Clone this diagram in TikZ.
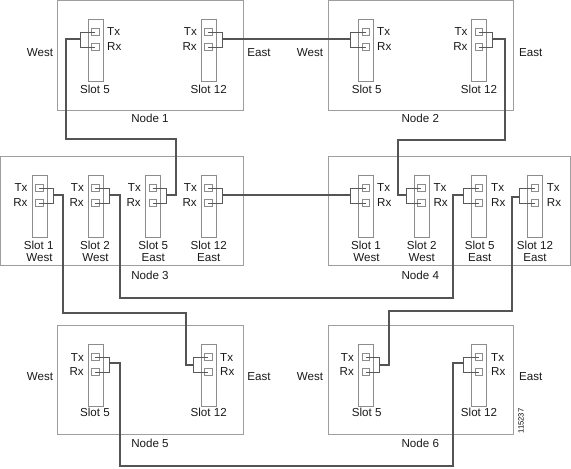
\documentclass[tikz,border=0pt]{standalone}
\usepackage{fontspec}
\setmainfont{Liberation Sans}
\usetikzlibrary{calc}
\definecolor{frameC}{gray}{0.62}
\definecolor{slotC}{gray}{0.55}
\definecolor{wireC}{gray}{0.33}
\definecolor{leadC}{gray}{0.35}
\tikzset{
  nodebox/.style={draw=frameC,line width=1pt,inner sep=0pt},
  slotbox/.style={draw=slotC,line width=1pt,inner sep=0pt,minimum width=15.2pt,minimum height=61.5pt,anchor=north west},
  portbox/.style={draw=slotC,line width=0.8pt,inner sep=0pt,minimum size=7.2pt},
  lead/.style={draw=leadC,line width=0.9pt},
  wire/.style={draw=wireC,line width=2pt,line join=miter},
  lbl/.style={font=\fontsize{11.6}{13}\selectfont,inner sep=0pt,text=black!90},
  lblL/.style={lbl,anchor=west},
  lblR/.style={lbl,anchor=east}
}
\newcommand{\slotW}[3]{%
  \node[slotbox] (#1) at (#2,#3) {};
  \node[portbox] (#1t) at (#2+7.8,#3+13.2) {};
  \node[portbox] (#1r) at (#2+7.8,#3+28.2) {};
  \coordinate (#1b) at (#2-7.2,#3+20);
  \draw[lead] (#1t.center) -| (#1b) |- (#1r.center);
}
\newcommand{\slotE}[3]{%
  \node[slotbox] (#1) at (#2,#3) {};
  \node[portbox] (#1t) at (#2+7.8,#3+13.2) {};
  \node[portbox] (#1r) at (#2+7.8,#3+28.2) {};
  \coordinate (#1b) at (#2+21.6,#3+20);
  \draw[lead] (#1t.center) -| (#1b) |- (#1r.center);
}
\begin{document}
\begin{tikzpicture}[x=1pt,y=-1pt]
\useasboundingbox (0,0) rectangle (571,469);
% node frames
\draw[nodebox] (57.5,0.5) rectangle (243,110);
\draw[nodebox] (328,0.5) rectangle (513.5,110);
\draw[nodebox] (0.5,156) rectangle (243,265.5);
\draw[nodebox] (328,156) rectangle (570.5,265.5);
\draw[nodebox] (57.5,325) rectangle (243,434.5);
\draw[nodebox] (328,325) rectangle (513.5,434.5);
% slots
\slotW{a}{87.5}{19}
\slotE{b}{200.5}{19}
\slotW{c}{357.7}{19}
\slotE{d}{470.7}{19}
\slotE{e}{31.5}{175}
\slotE{f}{87.5}{175}
\slotE{g}{144.7}{175}
\slotE{h}{200.5}{175}
\slotW{i}{357.7}{175}
\slotW{j}{413.5}{175}
\slotW{k}{470.7}{175}
\slotW{l}{526.7}{175}
\slotE{m}{87.5}{344}
\slotW{n}{200.5}{344}
\slotE{o}{357.7}{344}
\slotW{p}{470.7}{344}
\coordinate (ls) at ($(lb)+(0,2)$);
\coordinate (ms) at ($(mb)+(0,-1)$);
\coordinate (ps) at ($(pb)+(0,-1)$);
\coordinate (ns) at ($(nb)+(0,1)$);
\coordinate (os) at ($(ob)+(0,1)$);
% wires
\draw[wire] (ab) -- ++(-14,0) |- (176,139) |- (gb);
\draw[wire] (bb) -- (cb);
\draw[wire] (db) -| (505,140) -| (398,165) |- (jb);
\draw[wire] (hb) -- (ib);
\draw[wire] (eb) -| (63,313) -| (186,340) |- (ns);
\draw[wire] (fb) -| (119.5,298) -| (452.7,230) |- (kb);
\draw[wire] (ls) -| (511.7,311) -| (389.3,340) |- (os);
\draw[wire] (ms) -| (119.5,466) -| (452.7,400) |- (ps);
% labels node 1
\node[lbl] (w1) at (40,52.5) {West};
\node[lbl] (e1) at (259,52.5) {East};
\node[lblL] (t1) at (107,32) {Tx};
\node[lblL] (r1) at (107,47) {Rx};
\node[lblR] (t2) at (197,32) {Tx};
\node[lblR] (r2) at (197,47) {Rx};
\node[lbl] (s1) at (95,89) {Slot 5};
\node[lbl] (s2) at (208.7,89) {Slot 12};
\node[lbl] (n1) at (150,118.7) {Node 1};
% node 2
\node[lbl] (w2) at (310,52.5) {West};
\node[lbl] (e2) at (530.7,52.5) {East};
\node[lblL] (t3) at (377,32) {Tx};
\node[lblL] (r3) at (377,47) {Rx};
\node[lblR] (t4) at (467.7,32) {Tx};
\node[lblR] (r4) at (467.7,47) {Rx};
\node[lbl] (s3) at (366.7,89) {Slot 5};
\node[lbl] (s4) at (479,89) {Slot 12};
\node[lbl] (n2) at (420.3,118.7) {Node 2};
% node 3
\node[lblR] (t5) at (27.7,188) {Tx};
\node[lblR] (r5) at (27.7,203) {Rx};
\node[lblR] (t6) at (84,188) {Tx};
\node[lblR] (r6) at (84,203) {Rx};
\node[lblR] (t7) at (141,188) {Tx};
\node[lblR] (r7) at (141,203) {Rx};
\node[lblR] (t8) at (197,188) {Tx};
\node[lblR] (r8) at (197,203) {Rx};
\node[lbl] (s5) at (38.7,245) {Slot 1};
\node[lbl] (s6) at (95,245) {Slot 2};
\node[lbl] (s7) at (153.3,245) {Slot 5};
\node[lbl] (s8) at (208.7,245) {Slot 12};
\node[lbl] (d5) at (39.5,257.7) {West};
\node[lbl] (d6) at (95.5,257.7) {West};
\node[lbl] (d7) at (153.3,257.7) {East};
\node[lbl] (d8) at (208.7,257.7) {East};
\node[lbl] (n3) at (150,275) {Node 3};
% node 4
\node[lblL] (t9) at (377,188) {Tx};
\node[lblL] (r9) at (377,203) {Rx};
\node[lblL] (t10) at (433.3,188) {Tx};
\node[lblL] (r10) at (433.3,203) {Rx};
\node[lblL] (t11) at (491,188) {Tx};
\node[lblL] (r11) at (491,203) {Rx};
\node[lblL] (t12) at (546.7,188) {Tx};
\node[lblL] (r12) at (546.7,203) {Rx};
\node[lbl] (s9) at (366,245) {Slot 1};
\node[lbl] (s10) at (421.7,245) {Slot 2};
\node[lbl] (s11) at (479.7,245) {Slot 5};
\node[lbl] (s12) at (535,245) {Slot 12};
\node[lbl] (d9) at (366.5,257.7) {West};
\node[lbl] (d10) at (421.7,257.7) {West};
\node[lbl] (d11) at (479.7,257.7) {East};
\node[lbl] (d12) at (535,257.7) {East};
\node[lbl] (n4) at (420.3,275) {Node 4};
% node 5
\node[lbl] (w5) at (40,376.7) {West};
\node[lbl] (e5) at (259,376.7) {East};
\node[lblR] (t13) at (84,357.3) {Tx};
\node[lblR] (r13) at (84,372) {Rx};
\node[lblL] (t14) at (220,357.3) {Tx};
\node[lblL] (r14) at (220,372) {Rx};
\node[lbl] (s13) at (95,412.7) {Slot 5};
\node[lbl] (s14) at (208.7,412.7) {Slot 12};
\node[lbl] (n5) at (150,443.7) {Node 5};
% node 6
\node[lbl] (w6) at (310,376.7) {West};
\node[lbl] (e6) at (530.7,376.7) {East};
\node[lblR] (t15) at (354,357.3) {Tx};
\node[lblR] (r15) at (354,372) {Rx};
\node[lblL] (t16) at (491,357.3) {Tx};
\node[lblL] (r16) at (491,372) {Rx};
\node[lbl] (s15) at (366.7,412.7) {Slot 5};
\node[lbl] (s16) at (479,412.7) {Slot 12};
\node[lbl] (n6) at (420.3,443.7) {Node 6};
\node[font=\fontsize{7.6}{8}\selectfont,rotate=90,inner sep=0pt] (id) at (521,421) {115237};
\end{tikzpicture}
\end{document}
